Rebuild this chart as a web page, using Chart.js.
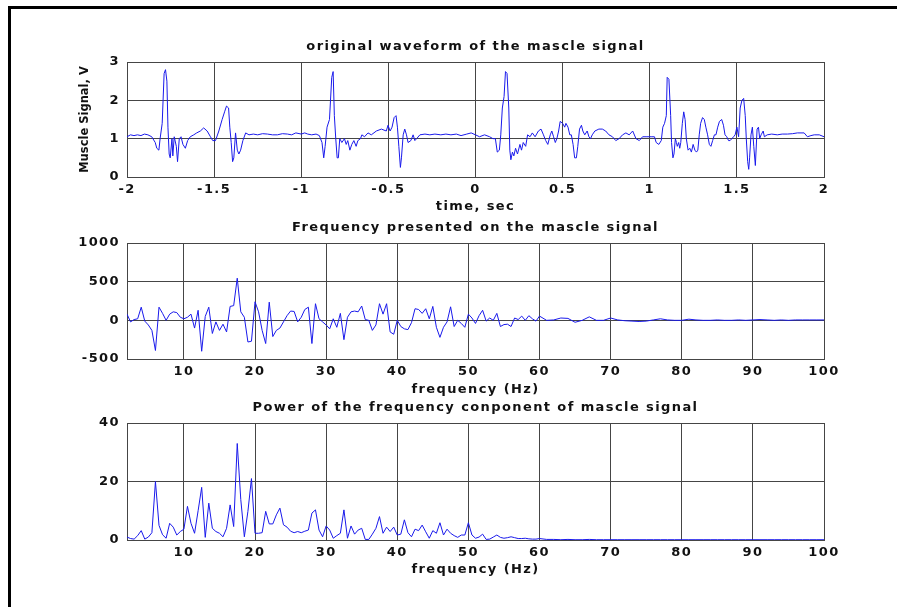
<!DOCTYPE html>
<html>
<head>
<meta charset="utf-8">
<script src="https://cdn.jsdelivr.net/npm/chart.js@4.4.0/dist/chart.umd.min.js"></script>
<style>
  html, body { margin: 0; padding: 0; background: #fff; }
  #figura { position: relative; width: 897px; height: 607px; overflow: hidden; background: #fff; }
  #marco { position: absolute; left: 8px; top: 6px; width: 900px; height: 610px;
           border-top: 3px solid #000; border-left: 3px solid #000; }
  .panel { position: absolute; left: 0; }
  .panel canvas { display: block; }
</style>
</head>
<body>
<div id="figura">
  <div id="marco"></div>
  <div class="panel" style="top:0px"><canvas id="c1" width="897" height="215"></canvas></div>
  <div class="panel" style="top:215px"><canvas id="c2" width="897" height="185"></canvas></div>
  <div class="panel" style="top:400px"><canvas id="c3" width="897" height="185"></canvas></div>
</div>
<script>
// Señal original (tiempo en s, voltaje en V)
const waveTime = [
  -2.000, -1.980, -1.960, -1.940, -1.920, -1.900, -1.880, -1.858, -1.838, -1.829,
  -1.817, -1.810, -1.798, -1.787, -1.779, -1.771, -1.765, -1.758, -1.752, -1.742,
  -1.737, -1.729, -1.717, -1.710, -1.700, -1.690, -1.679, -1.665, -1.652, -1.637,
  -1.617, -1.600, -1.579, -1.560, -1.540, -1.521, -1.508, -1.492, -1.473, -1.454,
  -1.440, -1.429, -1.417, -1.410, -1.402, -1.394, -1.387, -1.377, -1.367, -1.358,
  -1.348, -1.335, -1.319, -1.300, -1.275, -1.250, -1.222, -1.194, -1.165, -1.137,
  -1.108, -1.079, -1.055, -1.031, -1.000, -0.980, -0.963, -0.940, -0.915, -0.896,
  -0.881, -0.871, -0.863, -0.852, -0.838, -0.825, -0.817, -0.810, -0.802, -0.794,
  -0.787, -0.779, -0.767, -0.752, -0.742, -0.733, -0.721, -0.710, -0.698, -0.685,
  -0.675, -0.660, -0.652, -0.637, -0.617, -0.598, -0.569, -0.540, -0.512, -0.502,
  -0.490, -0.479, -0.467, -0.456, -0.448, -0.440, -0.431, -0.425, -0.415, -0.406,
  -0.396, -0.387, -0.371, -0.358, -0.348, -0.338, -0.319, -0.290, -0.262, -0.233,
  -0.199, -0.170, -0.141, -0.110, -0.083, -0.050, -0.025, 0.000, 0.023, 0.052,
  0.081, 0.100, 0.114, 0.125, 0.137, 0.145, 0.154, 0.164, 0.172, 0.181,
  0.191, 0.197, 0.203, 0.212, 0.220, 0.230, 0.241, 0.255, 0.264, 0.274,
  0.288, 0.299, 0.313, 0.326, 0.342, 0.361, 0.376, 0.390, 0.403, 0.415,
  0.429, 0.438, 0.448, 0.458, 0.467, 0.477, 0.486, 0.500, 0.512, 0.519,
  0.531, 0.541, 0.550, 0.560, 0.569, 0.579, 0.587, 0.597, 0.608, 0.616,
  0.627, 0.641, 0.651, 0.660, 0.670, 0.685, 0.708, 0.728, 0.747, 0.766,
  0.786, 0.805, 0.824, 0.844, 0.863, 0.882, 0.902, 0.921, 0.940, 0.959,
  0.979, 1.008, 1.027, 1.037, 1.052, 1.066, 1.075, 1.085, 1.095, 1.100,
  1.110, 1.120, 1.125, 1.133, 1.139, 1.147, 1.153, 1.158, 1.166, 1.172,
  1.178, 1.187, 1.195, 1.203, 1.210, 1.220, 1.230, 1.239, 1.249, 1.259,
  1.268, 1.276, 1.284, 1.292, 1.303, 1.313, 1.322, 1.332, 1.342, 1.351,
  1.361, 1.371, 1.380, 1.390, 1.400, 1.413, 1.423, 1.432, 1.442, 1.452,
  1.461, 1.471, 1.481, 1.490, 1.500, 1.510, 1.519, 1.529, 1.539, 1.548,
  1.554, 1.562, 1.568, 1.573, 1.581, 1.589, 1.597, 1.606, 1.616, 1.624,
  1.631, 1.639, 1.651, 1.658, 1.674, 1.700, 1.732, 1.760, 1.790, 1.820,
  1.847, 1.886, 1.905, 1.925, 1.944, 1.973, 2.000
];
const waveVolt = [
  1.05, 1.10, 1.08, 1.10, 1.08, 1.12, 1.10, 1.05, 0.90, 0.75,
  0.70, 1.00, 1.40, 2.70, 2.80, 2.50, 1.30, 0.60, 0.50, 1.00,
  0.55, 1.05, 0.80, 0.40, 1.00, 1.05, 0.85, 0.75, 0.95, 1.05,
  1.10, 1.15, 1.20, 1.28, 1.20, 1.05, 0.95, 0.95, 1.20, 1.50,
  1.70, 1.85, 1.80, 1.30, 0.90, 0.40, 0.50, 1.15, 0.70, 0.60,
  0.70, 0.95, 1.15, 1.10, 1.12, 1.10, 1.13, 1.12, 1.10, 1.10,
  1.13, 1.12, 1.10, 1.15, 1.12, 1.15, 1.12, 1.10, 1.12, 1.08,
  0.90, 0.50, 0.80, 1.30, 1.50, 2.60, 2.75, 1.60, 1.00, 0.50,
  0.50, 1.00, 0.90, 1.00, 0.85, 0.95, 0.70, 0.85, 0.95, 0.80,
  0.95, 1.00, 1.10, 1.05, 1.15, 1.10, 1.20, 1.25, 1.20, 1.35,
  1.20, 1.30, 1.55, 1.60, 1.30, 0.80, 0.25, 0.50, 1.10, 1.25,
  1.10, 0.90, 0.95, 1.10, 0.95, 1.00, 1.10, 1.12, 1.10, 1.12,
  1.10, 1.12, 1.10, 1.12, 1.08, 1.12, 1.15, 1.10, 1.05, 1.10,
  1.05, 1.00, 1.00, 0.65, 0.70, 1.10, 1.80, 2.10, 2.75, 2.70,
  1.80, 0.70, 0.45, 0.65, 0.55, 0.75, 0.60, 0.85, 0.70, 0.90,
  0.80, 1.10, 1.05, 1.15, 1.05, 1.20, 1.25, 1.10, 0.95, 0.85,
  1.10, 1.20, 1.05, 0.90, 1.00, 1.20, 1.45, 1.40, 1.30, 1.40,
  1.30, 1.10, 1.10, 0.85, 0.50, 0.50, 0.80, 1.25, 1.35, 1.20,
  1.10, 1.20, 1.05, 1.00, 1.10, 1.20, 1.25, 1.25, 1.20, 1.10,
  1.05, 0.95, 1.00, 1.10, 1.15, 1.10, 1.20, 1.00, 0.95, 1.05,
  1.05, 1.05, 1.05, 0.90, 0.85, 0.95, 1.30, 1.40, 1.60, 2.60,
  2.55, 1.60, 0.90, 0.50, 0.60, 1.00, 0.90, 0.80, 0.90, 0.75,
  0.90, 1.40, 1.70, 1.50, 1.00, 0.70, 0.75, 0.65, 0.85, 0.70,
  0.65, 0.70, 1.10, 1.40, 1.55, 1.50, 1.30, 1.10, 0.85, 0.80,
  0.95, 1.10, 1.10, 1.30, 1.45, 1.50, 1.35, 1.10, 1.05, 0.95,
  0.95, 1.00, 1.05, 1.10, 1.30, 1.05, 1.80, 2.00, 2.05, 1.60,
  1.00, 0.40, 0.20, 0.50, 1.10, 1.30, 0.80, 0.30, 1.25, 1.30,
  1.00, 1.10, 1.20, 1.05, 1.10, 1.12, 1.10, 1.12, 1.12, 1.13,
  1.15, 1.15, 1.05, 1.08, 1.10, 1.10, 1.05
];

// Eje de frecuencias (Hz)
const freqHz = [
  2, 2.5, 3, 3.5, 4, 4.5, 5, 5.5, 6, 6.5, 7, 7.5, 8, 8.5, 9, 9.5,
  10, 10.5, 11, 11.5, 12, 12.5, 13, 13.5, 14, 14.5, 15, 15.5, 16, 16.5, 17, 17.5, 18, 18.5, 19, 19.5,
  20, 20.5, 21, 21.5, 22, 22.5, 23, 23.5, 24, 24.5, 25, 25.5, 26, 26.5, 27, 27.5, 28, 28.5, 29, 29.5,
  30, 30.5, 31, 31.5, 32, 32.5, 33, 33.5, 34, 34.5, 35, 35.5, 36, 36.5, 37, 37.5, 38, 38.5, 39, 39.5,
  40, 40.5, 41, 41.5, 42, 42.5, 43, 43.5, 44, 44.5, 45, 45.5, 46, 46.5, 47, 47.5, 48, 48.5, 49, 49.5,
  50, 50.5, 51, 51.5, 52, 52.5, 53, 53.5, 54, 54.5, 55, 55.5, 56, 56.5, 57, 57.5, 58, 58.5, 59, 59.5,
  60, 61, 62, 63, 64, 65, 66, 67, 68, 69, 70,
  71, 72, 73, 74, 75, 76, 77, 78, 79, 80,
  81, 82, 83, 84, 85, 86, 87, 88, 89, 90,
  91, 92, 93, 94, 95, 96, 97, 98, 99, 100
];

// Espectro de la señal
const freqAmp = [
  80, -20, 10, 20, 170, -10, -60, -130, -390, 170, 90, 0, 80, 110, 100, 40,
  20, 40, 80, -100, 130, -400, 50, 170, -170, -20, -130, -50, -150, 180, 190, 545, 110, 40, -280, -270,
  240, 110, -130, -300, 235, -210, -130, -100, -20, 60, 120, 115, -20, 40, 140, 170, -300, 215, 20, -20,
  -60, -110, 20, -90, 90, -250, 40, 110, 120, 110, 185, 10, 0, -130, -60, 215, 80, 215, -150, -180,
  0, -80, -110, -120, -30, 150, 140, 90, 150, 20, 180, -90, -220, -90, -20, 175, -80, 0, -40, -90,
  80, 30, -40, 60, 130, -10, 30, 0, 90, -80, -55, -50, -80, 30, 10, 55, 0, 60, 20, -10,
  55, 0, 5, 30, 25, -25, 0, 45, 0, 0, 30,
  5, -5, -10, -15, -10, 5, 20, 5, 0, 0,
  15, 5, 0, 0, 5, 0, 0, 5, 0, 5,
  10, 5, 0, 5, 0, 5, 5, 5, 5, 5
];

// Potencia de cada componente
const powerVal = [
  1.0, 0.5, 0.3, 1.5, 3.2, 0.3, 1.0, 2.5, 20, 5, 1.8, 0.6, 5.7, 4.4, 1.7, 2.9,
  3.7, 11.5, 5.7, 2.3, 10, 18, 0.9, 12.6, 4, 2.9, 2.3, 1.1, 4, 12, 4.6, 33, 13.8, 1.1, 9.8, 21,
  2.3, 2.3, 2.5, 9.8, 5.5, 5.5, 8.6, 10.9, 5.2, 4.4, 3, 2.5, 2.9, 2.5, 3, 3.4, 9.2, 10.3, 3.4, 1.1,
  4.8, 3.4, 0.6, 1.5, 2.3, 10.3, 0.6, 4.8, 2, 3.4, 4, 0.2, 0.2, 2, 4, 8, 2.3, 4.4, 2.9, 4.4,
  1.7, 2, 6.9, 2.5, 1.1, 3.7, 3.2, 5.1, 2.8, 0.6, 3.2, 2.3, 5.9, 1.7, 3.7, 2.3, 1.5, 0.9, 1.7, 1.7,
  5.9, 1.7, 0.6, 1.0, 2, 0.2, 0.3, 1.0, 1.7, 0.9, 0.6, 0.8, 1.1, 0.8, 0.5, 0.5, 0.6, 0.4, 0.3, 0.3,
  0.5, 0.2, 0.2, 0.1, 0.2, 0.1, 0.1, 0.2, 0.1, 0.1, 0.1,
  0.1, 0.1, 0.1, 0.1, 0.1, 0.1, 0.1, 0.1, 0.1, 0.1,
  0.1, 0.1, 0.1, 0.1, 0.1, 0.1, 0.1, 0.1, 0.1, 0.1,
  0.1, 0.1, 0.1, 0.1, 0.1, 0.1, 0.1, 0.1, 0.1, 0.1
];

// Marcas de los ejes
const timeTicks = [-2, -1.5, -1, -0.5, 0, 0.5, 1, 1.5, 2];
const voltTicks = [0, 1, 2, 3];
const freqTicks = [10, 20, 30, 40, 50, 60, 70, 80, 90, 100];
const ampTicks = [-500, 0, 500, 1000];
const powerTicks = [0, 20, 40];

const LINE_COLOR = 'rgb(25, 25, 235)';
const GRID_COLOR = '#454545';
const FONT = 'DejaVu Sans';

// Espaciado de letras (el original está estirado en horizontal)
const espaciado = {
  id: 'espaciado',
  afterLayout(chart) {
    const y = chart.scales.y;
    if (y && !y._envuelto) {
      const original = y.drawTitle;
      y.drawTitle = function () {
        const prev = this.ctx.letterSpacing;
        this.ctx.letterSpacing = '0px';
        original.call(this);
        this.ctx.letterSpacing = prev;
      };
      y._envuelto = true;
    }
  },
  beforeDraw(chart) {
    chart.ctx.letterSpacing = '1.4px';
  }
};

function toPoints(xs, ys) {
  return xs.map((x, i) => ({ x: x, y: ys[i] }));
}

// Crear un panel estilo MATLAB
function crearPanel(id, p) {
  const fuente = { family: FONT, size: 13, weight: 'bold' };
  return new Chart(document.getElementById(id), {
    type: 'line',
    data: {
      datasets: [{
        data: toPoints(p.xs, p.ys),
        borderColor: LINE_COLOR,
        borderWidth: 1,
        pointRadius: 0,
        tension: 0,
        fill: false
      }]
    },
    options: {
      responsive: false,
      animation: false,
      events: [],
      layout: { padding: { left: 0, right: 73, top: 0, bottom: 0 } },
      plugins: {
        legend: { display: false },
        tooltip: { enabled: false },
        title: {
          display: true,
          fullSize: false,
          text: p.title,
          color: '#111',
          font: fuente,
          padding: { top: p.titlePad[0], bottom: p.titlePad[1] }
        }
      },
      scales: {
        x: {
          type: 'linear',
          min: p.xMin,
          max: p.xMax,
          afterBuildTicks: s => { s.ticks = p.xTicks.map(v => ({ value: v })); },
          afterFit: s => { s.height = p.xAxisHeight; },
          grid: { color: GRID_COLOR, lineWidth: 1, drawTicks: false },
          border: { display: true, color: GRID_COLOR, width: 1 },
          ticks: {
            padding: 5,
            color: '#111',
            maxRotation: 0,
            font: fuente,
            callback: v => String(v)
          },
          title: {
            display: true,
            text: p.xTitle,
            color: '#111',
            font: fuente,
            padding: { top: 0, bottom: p.xTitleBottom }
          }
        },
        y: {
          type: 'linear',
          min: p.yMin,
          max: p.yMax,
          afterBuildTicks: s => { s.ticks = p.yTicks.map(v => ({ value: v })); },
          afterFit: s => { s.width = 127; },
          grid: { color: GRID_COLOR, lineWidth: 1, drawTicks: false },
          border: { display: true, color: GRID_COLOR, width: 1 },
          ticks: {
            padding: 7,
            color: '#111',
            font: fuente,
            callback: v => String(v)
          },
          title: {
            display: !!p.yTitle,
            text: p.yTitle || '',
            color: '#111',
            font: { family: FONT, size: 11.5, weight: 'bold' },
            padding: { top: 78, bottom: 0 }
          }
        }
      }
    },
    plugins: [espaciado]
  });
}

crearPanel('c1', {
  xs: waveTime, ys: waveVolt,
  title: 'original waveform of the mascle signal',
  titlePad: [38.7, 7.7],
  xMin: -2, xMax: 2, xTicks: timeTicks,
  yMin: 0, yMax: 3, yTicks: voltTicks,
  xTitle: 'time, sec', xAxisHeight: 38, xTitleBottom: 0.2,
  yTitle: 'Muscle Signal, V'
});

crearPanel('c2', {
  xs: freqHz, ys: freqAmp,
  title: 'Frequency presented on the mascle signal',
  titlePad: [4.7, 7.7],
  xMin: 2, xMax: 100, xTicks: freqTicks,
  yMin: -500, yMax: 1000, yTicks: ampTicks,
  xTitle: 'frequency (Hz)', xAxisHeight: 41, xTitleBottom: 2.2
});

crearPanel('c3', {
  xs: freqHz, ys: powerVal,
  title: 'Power of the frequency conponent of mascle signal',
  titlePad: [0.2, 7.2],
  xMin: 2, xMax: 100, xTicks: freqTicks,
  yMin: 0, yMax: 40, yTicks: powerTicks,
  xTitle: 'frequency (Hz)', xAxisHeight: 45, xTitleBottom: 7.2
});
</script>
</body>
</html>
